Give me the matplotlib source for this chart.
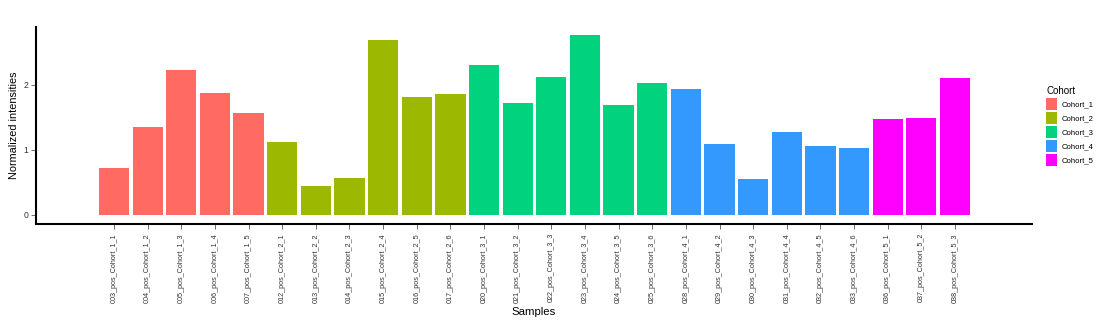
import matplotlib.pyplot as plt
from matplotlib.patches import Patch

plt.rcParams["font.family"] = ["Liberation Sans", "DejaVu Sans"]

samples = [
    "003_pos_Cohort_1_1", "004_pos_Cohort_1_2", "005_pos_Cohort_1_3", "006_pos_Cohort_1_4",
    "007_pos_Cohort_1_5", "012_pos_Cohort_2_1", "013_pos_Cohort_2_2", "014_pos_Cohort_2_3",
    "015_pos_Cohort_2_4", "016_pos_Cohort_2_5", "017_pos_Cohort_2_6", "020_pos_Cohort_3_1",
    "021_pos_Cohort_3_2", "022_pos_Cohort_3_3", "023_pos_Cohort_3_4", "024_pos_Cohort_3_5",
    "025_pos_Cohort_3_6", "028_pos_Cohort_4_1", "029_pos_Cohort_4_2", "030_pos_Cohort_4_3",
    "031_pos_Cohort_4_4", "032_pos_Cohort_4_5", "033_pos_Cohort_4_6", "036_pos_Cohort_5_1",
    "037_pos_Cohort_5_2", "038_pos_Cohort_5_3",
]
intensities = [
    0.72, 1.35, 2.23, 1.88, 1.57,
    1.12, 0.45, 0.57, 2.69, 1.82, 1.86,
    2.31, 1.72, 2.12, 2.77, 1.69, 2.03,
    1.94, 1.09, 0.55, 1.28, 1.06, 1.03,
    1.48, 1.49, 2.11,
]
cohorts = ["Cohort_1", "Cohort_2", "Cohort_3", "Cohort_4", "Cohort_5"]
cohort_colors = {
    "Cohort_1": "#FF6B63",
    "Cohort_2": "#9CB800",
    "Cohort_3": "#00D27E",
    "Cohort_4": "#3399FF",
    "Cohort_5": "#FF00FF",
}

sample_cohort = ["Cohort_" + s.split("_")[3] for s in samples]
colors = [cohort_colors[c] for c in sample_cohort]

fig = plt.figure(figsize=(11.06, 3.25), dpi=100)
ax = fig.add_axes([36 / 1106, 1 - 224 / 325, (1032 - 36) / 1106, (224 - 27) / 325])

x = list(range(len(samples)))
ax.bar(x, intensities, width=0.9, color=colors)

ax.set_xlim(-2.32, 27.29)
ax.set_ylim(-0.14, 2.89)
ax.set_yticks([0, 1, 2])
ax.set_xticks(x)
ax.set_xticklabels(samples, rotation=90, fontsize=5.2)
ax.tick_params(axis="y", labelsize=6.2, colors="#555555", labelcolor="#333333",
               length=3.5, width=0.6, pad=2)
ax.tick_params(axis="x", length=3.5, width=0.6, colors="#555555", labelcolor="#333333", pad=3)

for side in ["top", "right"]:
    ax.spines[side].set_visible(False)
for side in ["left", "bottom"]:
    ax.spines[side].set_linewidth(1.5)
    ax.spines[side].set_color("black")

ax.set_xlabel("Samples", fontsize=8.2, labelpad=3)
ax.set_ylabel("Normalized intensities", fontsize=7.8, labelpad=3.5)

handles = [Patch(facecolor=cohort_colors[c], label=c) for c in cohorts]
leg = fig.legend(handles=handles, title="Cohort", loc="upper left",
                 bbox_to_anchor=(1040 / 1106, 1 - 80 / 325), frameon=False,
                 fontsize=5.6, title_fontsize=7, handlelength=1.35, handleheight=1.95,
                 handletextpad=0.6, labelspacing=0.28, borderpad=0.3)
leg._legend_box.align = "left"

fig.savefig("out.png", dpi=100)
